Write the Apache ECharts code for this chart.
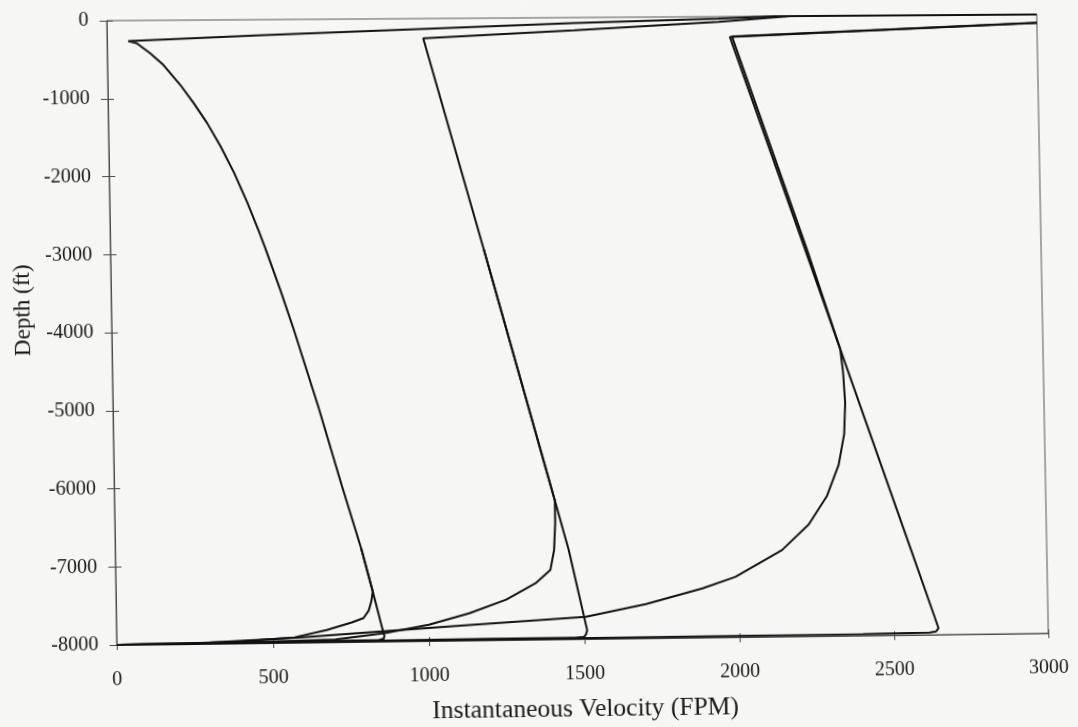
<!DOCTYPE html>
<html>
<head>
<meta charset="utf-8">
<script src="https://cdn.jsdelivr.net/npm/echarts@6/dist/echarts.min.js"></script>
<style>
  html, body { margin: 0; padding: 0; background: #f6f6f4; overflow: hidden; }
  #chart { width: 1078px; height: 727px; transform-origin: 0 0; }
</style>
</head>
<body>
<div id="chart"></div>
<script>
// Axis ticks
const xTicks = [0, 500, 1000, 1500, 2000, 2500, 3000];
const yTicks = [0, -1000, -2000, -3000, -4000, -5000, -6000, -7000, -8000];

// Each path: [velocity (FPM), depth (ft)]
// Cycle A
const cycleA_main = [[0,-8000],[250,-7992],[500,-7985],[700,-7980],[840,-7976],[855,-7962],[857,-7930],[850,-7820],[838,-7620],[822,-7353],[787,-6797],[729,-6000],[659,-5000],[584,-4000],[544,-3500],[497,-2951],[474,-2695],[441,-2352],[400,-1966],[358,-1624],[316,-1323],[274,-1066],[232,-830],[179,-573],[137,-421],[95,-292],[68,-265],[500,-200],[1000,-135],[1500,-72],[1967,-26],[2150,0],[3000,0]];
const cycleA_alt = [[0,-8000],[200,-7992],[400,-7975],[569,-7931],[672,-7843],[753,-7750],[791,-7695],[808,-7600],[817,-7480],[822,-7353],[787,-6797]];

// Cycle B
const cycleB_main = [[0,-8000],[400,-7992],[850,-7986],[1200,-7982],[1470,-7980],[1498,-7972],[1505,-7940],[1509,-7886],[1454,-6852],[1412,-6211],[1197,-2972],[1014,-255],[1500,-165],[1967,-69],[2200,0],[3000,0]];
const cycleB_alt = [[0,-8000],[400,-7990],[700,-7965],[859,-7890],[1000,-7790],[1131,-7650],[1250,-7480],[1345,-7275],[1394,-7105],[1407,-6848],[1412,-6500],[1412,-6211],[1197,-2972]];

// Cycle C
const cycleC_main = [[0,-8000],[500,-7995],[1000,-7990],[1500,-7988],[2000,-7985],[2400,-7980],[2615,-7972],[2636,-7958],[2644,-7917],[2632,-7768],[2560,-6905],[2234,-3011],[2003,-263],[2500,-188],[3000,-110]];
const cycleC_alt = [[0,-8000],[300,-7985],[591,-7932],[850,-7868],[1130,-7800],[1505,-7713],[1700,-7560],[1883,-7366],[1990,-7223],[2142,-6886],[2230,-6560],[2290,-6200],[2330,-5800],[2350,-5400],[2355,-5000],[2350,-4600],[2342,-4300],[2240,-3011],[2010,-258],[2500,-183],[3000,-106]];

const paths = [cycleA_main, cycleA_alt, cycleB_main, cycleB_alt, cycleC_main, cycleC_alt];

// Grid box in the page, and where the scanned page puts its corners (slight skew of the scan)
const GRID = { left: 112, top: 17, right: 36, bottom: 88 };
const W = 1078, H = 727;
const srcCorners = [[GRID.left, GRID.top], [W - GRID.right, GRID.top], [W - GRID.right, H - GRID.bottom], [GRID.left, H - GRID.bottom]];
const dstCorners = [[106.7, 20.7], [1036.7, 14.5], [1048.3, 633.3], [116.7, 645]];

function homography(src, dst) {
  const A = [], b = [];
  for (let i = 0; i < 4; i++) {
    const x = src[i][0], y = src[i][1], u = dst[i][0], v = dst[i][1];
    A.push([x, y, 1, 0, 0, 0, -u * x, -u * y]); b.push(u);
    A.push([0, 0, 0, x, y, 1, -v * x, -v * y]); b.push(v);
  }
  const n = 8;
  for (let c = 0; c < n; c++) {
    let p = c;
    for (let r = c + 1; r < n; r++) if (Math.abs(A[r][c]) > Math.abs(A[p][c])) p = r;
    let t = A[c]; A[c] = A[p]; A[p] = t;
    t = b[c]; b[c] = b[p]; b[p] = t;
    for (let r = 0; r < n; r++) {
      if (r === c) continue;
      const f = A[r][c] / A[c][c];
      for (let k = c; k < n; k++) A[r][k] -= f * A[c][k];
      b[r] -= f * b[c];
    }
  }
  return b.map(function (v, i) { return v / A[i][i]; });
}
const h = homography(srcCorners, dstCorners);
document.getElementById('chart').style.transform =
  'matrix3d(' + [h[0], h[3], 0, h[6], h[1], h[4], 0, h[7], 0, 0, 1, 0, h[2], h[5], 0, 1].join(',') + ')';

const chart = echarts.init(document.getElementById('chart'), null, { renderer: 'canvas' });
const font = '"Liberation Serif", "Times New Roman", serif';
const lineCol = '#4a4a4a';
function plain(v) { return String(v); }
const baseX = {
  type: 'value', min: xTicks[0], max: xTicks[xTicks.length - 1], interval: xTicks[1] - xTicks[0],
  axisLine: { show: true, onZero: false, lineStyle: { color: lineCol, width: 1 } },
  splitLine: { show: false }
};
const baseY = {
  type: 'value', min: yTicks[yTicks.length - 1], max: yTicks[0], interval: yTicks[0] - yTicks[1],
  axisLine: { show: true, onZero: false, lineStyle: { color: lineCol, width: 1 } },
  splitLine: { show: false }
};
chart.setOption({
  backgroundColor: '#f6f6f4',
  animation: false,
  grid: { left: GRID.left, right: GRID.right, top: GRID.top, bottom: GRID.bottom, show: true, borderColor: '#555', borderWidth: 1, backgroundColor: 'transparent' },
  xAxis: [
    Object.assign({}, baseX, {
      position: 'bottom',
      name: 'Instantaneous Velocity (FPM)', nameLocation: 'middle', nameGap: 57,
      nameTextStyle: { fontFamily: font, fontSize: 25.5, color: '#1a1a1a' },
      axisTick: { show: true, inside: false, length: 5, lineStyle: { color: lineCol } },
      axisLabel: { fontFamily: font, fontSize: 20, color: '#1a1a1a', margin: 25, formatter: plain }
    }),
    Object.assign({}, baseX, {
      position: 'bottom',
      axisTick: { show: true, inside: true, length: 4, lineStyle: { color: lineCol } },
      axisLabel: { show: false }
    })
  ],
  yAxis: [
    Object.assign({}, baseY, {
      position: 'left',
      name: 'Depth (ft)', nameLocation: 'middle', nameGap: 61, nameRotate: 90,
      nameTextStyle: { fontFamily: font, fontSize: 23, color: '#1a1a1a', padding: [0, 0, 0, 46] },
      axisTick: { show: true, inside: false, length: 7, lineStyle: { color: lineCol } },
      axisLabel: { fontFamily: font, fontSize: 20, color: '#1a1a1a', margin: 18, formatter: plain }
    }),
    Object.assign({}, baseY, {
      position: 'left',
      axisTick: { show: true, inside: true, length: 6, lineStyle: { color: lineCol } },
      axisLabel: { show: false }
    })
  ],
  series: paths.map(function (d) {
    return {
      type: 'line', data: d, showSymbol: false, smooth: false,
      lineStyle: { color: '#111', width: 2 }, silent: true
    };
  })
});
</script>
</body>
</html>
